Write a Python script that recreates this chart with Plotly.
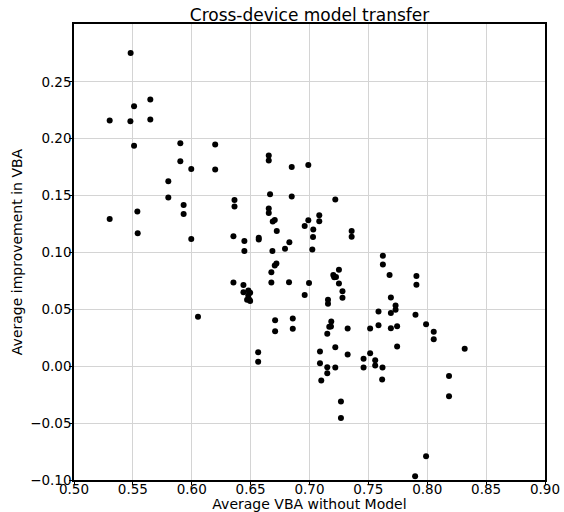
import plotly.graph_objects as go

# Average VBA without model (x) and average improvement in VBA (y)
vba_without_model = [
    0.5481, 0.5510, 0.5648, 0.5303, 0.5479, 0.5648, 0.5510, 0.5903, 0.6199, 0.5903,
    0.5996, 0.6199, 0.6654, 0.6654, 0.5801, 0.5801, 0.5931, 0.5931, 0.6363, 0.6363,
    0.6665, 0.6654, 0.6654, 0.5303, 0.5538,
    0.6849, 0.6990, 0.6849, 0.7219, 0.7083, 0.7083, 0.6990, 0.6688, 0.6705, 0.6959,
    0.7032, 0.6722, 0.7358, 0.7358, 0.6354, 0.6447, 0.6447, 0.6569, 0.6569, 0.7030,
    0.6829, 0.6792, 0.6685, 0.7024, 0.6719, 0.6705, 0.6676, 0.6676, 0.6826, 0.6996,
    0.6354, 0.6439, 0.6439, 0.6481, 0.6496, 0.6480, 0.6490, 0.6470, 0.6496,
    0.6959, 0.7250, 0.7250, 0.7202, 0.7210, 0.7225, 0.7280, 0.7280, 0.7157, 0.7157,
    0.7623, 0.7623, 0.7680, 0.7691, 0.7731, 0.7731, 0.7691, 0.7586,
    0.6708, 0.6708, 0.6858, 0.6858, 0.7185, 0.7168, 0.7182, 0.7151, 0.7324, 0.7515,
    0.7586, 0.7691, 0.7744,
    0.7908, 0.7908, 0.7900, 0.7990, 0.8055, 0.8055, 0.8318, 0.7089, 0.7219, 0.7324,
    0.7089, 0.7151, 0.7151, 0.7219, 0.7100, 0.7459, 0.7459, 0.7515, 0.7558, 0.7558,
    0.7620, 0.7617, 0.7744, 0.8185, 0.8185, 0.7267, 0.7267, 0.7990, 0.7897,
    0.5541, 0.5996, 0.6053, 0.6564, 0.6564,
]
vba_improvement = [
    0.2753, 0.2286, 0.2345, 0.2160, 0.2154, 0.2169, 0.1937, 0.1960, 0.1949, 0.1802,
    0.1734, 0.1729, 0.1852, 0.1808, 0.1626, 0.1482, 0.1417, 0.1338, 0.1461, 0.1403,
    0.1511, 0.1386, 0.1347, 0.1294, 0.1359,
    0.1752, 0.1769, 0.1491, 0.1465, 0.1327, 0.1274, 0.1283, 0.1271, 0.1285, 0.1232,
    0.1201, 0.1188, 0.1188, 0.1139, 0.1142, 0.1100, 0.1012, 0.1130, 0.1113, 0.1136,
    0.1089, 0.1033, 0.1012, 0.1025, 0.0904, 0.0886, 0.0825, 0.0737, 0.0739, 0.0731,
    0.0737, 0.0713, 0.0651, 0.0666, 0.0646, 0.0622, 0.0585, 0.0585, 0.0573,
    0.0625, 0.0728, 0.0849, 0.0801, 0.0781, 0.0784, 0.0660, 0.0602, 0.0585, 0.0549,
    0.0972, 0.0895, 0.0801, 0.0605, 0.0534, 0.0496, 0.0467, 0.0482,
    0.0405, 0.0308, 0.0420, 0.0329, 0.0393, 0.0347, 0.0350, 0.0285, 0.0332, 0.0332,
    0.0361, 0.0334, 0.0352,
    0.0792, 0.0717, 0.0452, 0.0370, 0.0303, 0.0238, 0.0153, 0.0129, 0.0167, 0.0103,
    0.0026, -0.0009, -0.0062, -0.0011, -0.0126, 0.0065, -0.0011, 0.0114, 0.0053, 0.0006,
    -0.0011, -0.0117, 0.0173, -0.0085, -0.0264, -0.0311, -0.0454, -0.0792, -0.0968,
    0.1168, 0.1118, 0.0435, 0.0123, 0.0039,
]

x_ticks = [0.50, 0.55, 0.60, 0.65, 0.70, 0.75, 0.80, 0.85, 0.90]
y_ticks = [-0.10, -0.05, 0.00, 0.05, 0.10, 0.15, 0.20, 0.25]

FONT = "DejaVu Sans"

fig = go.Figure()
fig.add_trace(go.Scatter(
    x=vba_without_model,
    y=vba_improvement,
    mode="markers",
    marker=dict(color="black", size=6, line=dict(width=0)),
    showlegend=False,
    hoverinfo="skip",
))

axis_common = dict(
    automargin=False,
    showgrid=True,
    gridcolor="#d4d4d4",
    gridwidth=1,
    showline=True,
    linecolor="black",
    linewidth=1.5,
    mirror=True,
    ticks="outside",
    ticklen=3,
    tickwidth=1,
    tickcolor="black",
    zeroline=False,
    tickfont=dict(family=FONT, size=13.5, color="black"),
    tickformat=".2f",
)

fig.update_layout(
    width=564,
    height=512,
    paper_bgcolor="white",
    plot_bgcolor="white",
    margin=dict(l=73.5, r=18.5, t=24, b=32, pad=0, autoexpand=False),
    title=dict(
        text="Cross-device model transfer",
        font=dict(family=FONT, size=17, color="black"),
        x=(73.5 + 545.5) / 2 / 564,
        xanchor="center",
        y=1 - 15.5 / 512,
        yanchor="middle",
        automargin=False,
    ),
    xaxis=dict(
        axis_common,
        range=[0.50, 0.90],
        tickvals=x_ticks,
        ticklabelstandoff=-7,
        title=dict(text="Average VBA without Model",
                   font=dict(family=FONT, size=14, color="black"),
                   standoff=10),
    ),
    yaxis=dict(
        axis_common,
        range=[-0.10, 0.3008],
        tickvals=y_ticks,
        ticklabelstandoff=-5,
        title=dict(text="Average improvement in VBA",
                   font=dict(family=FONT, size=14, color="black"),
                   standoff=4),
    ),
)

fig.write_html(
    "out.html",
    config={"displayModeBar": False},
    post_script="document.body.style.margin='0px';",
)
